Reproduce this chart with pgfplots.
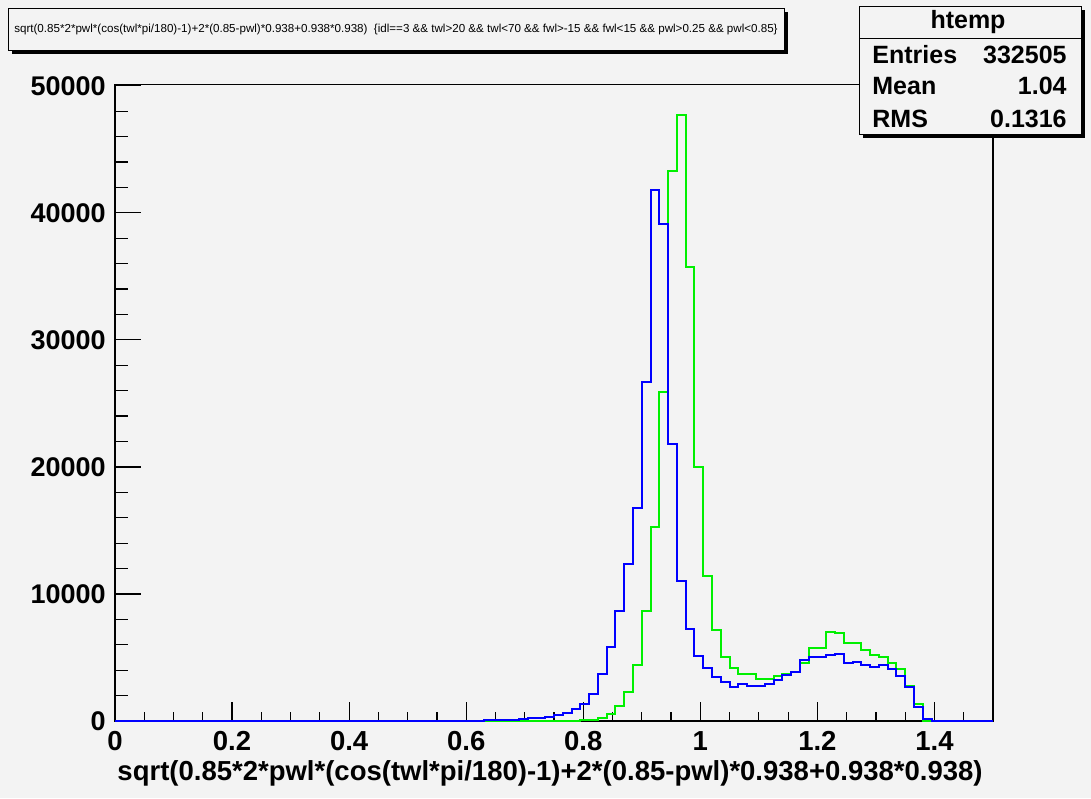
\documentclass[border=0pt]{standalone}
\usepackage{fontspec}
\setmainfont{Liberation Sans}
\usepackage{pgfplots}
\pgfplotsset{compat=1.18}
\definecolor{bg}{RGB}{243,243,243}
\definecolor{rblue}{RGB}{0,0,255}
\definecolor{rgreen}{RGB}{0,240,0}
\pgfplotsset{
  rootaxis/.style={
    at={(57.5pt,38.5pt)}, anchor=south west, scale only axis,
    width=439pt, height=318.25pt,
    xmin=0, xmax=1.5, ymin=0, ymax=50100,
    scaled x ticks=false, scaled y ticks=false,
    axis line style={line width=0.75pt},
    tick align=inside, tick pos=left,
    tick style={black, line width=0.6pt},
  }
}
\begin{document}
\begin{tikzpicture}[x=0.5pt,y=0.5pt]
\fill[bg] (0,0) rectangle (1091,798);
\useasboundingbox (0,0) rectangle (1091,798);
% axis 1: y ticks
\begin{axis}[rootaxis,
  xtick=\empty,
  ytick={0,10000,20000,30000,40000,50000},
  yticklabels={0,10000,20000,30000,40000,50000},
  minor y tick num=4,
  major tick length=13pt, minor tick length=6.5pt,
  yticklabel style={font=\bfseries\fontsize{13.5}{14}\selectfont, anchor=base east, inner sep=0pt, xshift=-4.5pt, yshift=-4.8pt},
]
\end{axis}
% axis 2: x ticks and data
\begin{axis}[rootaxis,
  ytick=\empty,
  xtick={0,0.2,0.4,0.6,0.8,1,1.2,1.4},
  xticklabels={0,0.2,0.4,0.6,0.8,1,1.2,1.4},
  minor xtick={0.05,0.1,0.15,0.25,0.3,0.35,0.45,0.5,0.55,0.65,0.7,0.75,0.85,0.9,0.95,1.05,1.1,1.15,1.25,1.3,1.35,1.45},
  major tick length=9.5pt, minor tick length=4.75pt,
  xticklabel style={font=\bfseries\fontsize{13.75}{14}\selectfont, anchor=base, inner sep=0pt, yshift=-14.6pt},
]
% green (htemp)
\addplot[const plot mark left, rgreen, line width=1pt, mark=none] coordinates {
(0,0) (0.795,50) (0.81,100) (0.825,260) (0.84,550) (0.855,1180) (0.87,2250) (0.885,4370)
(0.9,8640) (0.915,15270) (0.93,25900) (0.945,43300) (0.96,47700) (0.975,35700) (0.99,20000)
(1.005,11400) (1.02,7150) (1.035,5050) (1.05,4200) (1.065,3690) (1.08,3690) (1.095,3300)
(1.11,3300) (1.125,3530) (1.14,3690) (1.155,3870) (1.17,4530) (1.185,5710) (1.2,5710)
(1.215,7000) (1.23,6900) (1.245,6150) (1.26,6150) (1.275,5600) (1.29,5200) (1.305,5070)
(1.32,4600) (1.335,4100) (1.35,2750) (1.365,1300) (1.38,30) (1.395,0) (1.5,0)
};
% blue
\addplot[const plot mark left, rblue, line width=1pt, mark=none] coordinates {
(0,0) (0.63,80) (0.645,80) (0.66,100) (0.675,100) (0.69,120) (0.705,200) (0.72,220)
(0.735,300) (0.75,450) (0.765,650) (0.78,950) (0.795,1340) (0.81,2120) (0.825,3690)
(0.84,5840) (0.855,8640) (0.87,12360) (0.885,16800) (0.9,26700) (0.915,41800) (0.93,39100)
(0.945,21800) (0.96,11000) (0.975,7280) (0.99,5150) (1.005,4200) (1.02,3450) (1.035,3040)
(1.05,2670) (1.065,2900) (1.08,2770) (1.095,2770) (1.11,2900) (1.125,3200) (1.14,3600)
(1.155,3850) (1.17,4800) (1.185,5050) (1.2,5050) (1.215,5180) (1.23,5300) (1.245,4530)
(1.26,4650) (1.275,4370) (1.29,4240) (1.305,4370) (1.32,4080) (1.335,3560) (1.35,2650)
(1.365,1120) (1.38,130) (1.395,0) (1.5,0)
};
\end{axis}
% x axis title
\node[anchor=base east, inner sep=0pt, font=\bfseries\fontsize{13.75}{14}\selectfont] at (983,18) {sqrt(0.85*2*pwl*(cos(twl*pi/180)-1)+2*(0.85-pwl)*0.938+0.938*0.938)};
% title box
\fill[black] (11.5,743.5) rectangle (788,785.5);
\filldraw[fill=bg, draw=black, line width=0.5pt] (8,747) rectangle (784,789);
\node[inner sep=0pt, font=\fontsize{5.8}{6}\selectfont] at (396,768) {sqrt(0.85*2*pwl*(cos(twl*pi/180)-1)+2*(0.85-pwl)*0.938+0.938*0.938)\ \ \{idl==3 \&\& twl>20 \&\& twl<70 \&\& fwl>-15 \&\& fwl<15 \&\& pwl>0.25 \&\& pwl<0.85\}};
% stats box
\fill[black] (862.5,659.5) rectangle (1085,787.5);
\filldraw[fill=bg, draw=black, line width=0.5pt] (859,663) rectangle (1081,791);
\draw[black, line width=0.5pt] (859,759.5) -- (1081,759.5);
\begin{scope}[every node/.style={inner sep=0pt, font=\bfseries\fontsize{12.5}{13}\selectfont}]
\node[anchor=base] at (968,769.7) {htemp};
\node[anchor=base west] at (872,734.7) {Entries};
\node[anchor=base east] at (1067,734.7) {332505};
\node[anchor=base west] at (872,703) {Mean};
\node[anchor=base east] at (1067,703) {1.04};
\node[anchor=base west] at (872,670.7) {RMS};
\node[anchor=base east] at (1067,670.7) {0.1316};
\end{scope}
\end{tikzpicture}
\end{document}
